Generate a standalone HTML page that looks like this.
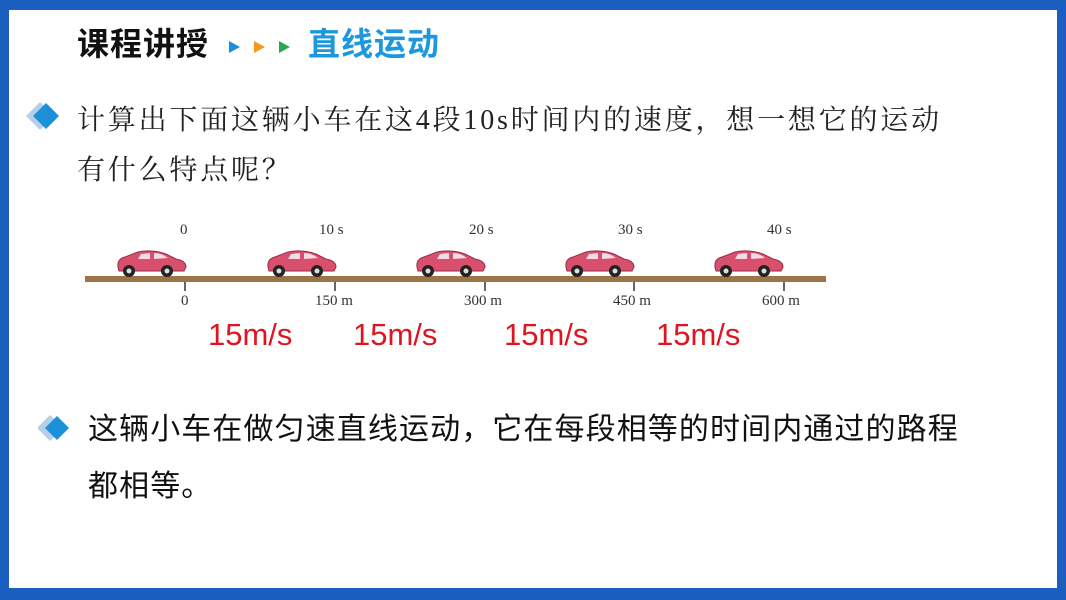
<!DOCTYPE html>
<html><head><meta charset="utf-8"><style>
body{margin:0;width:1066px;height:600px;background:#1a5fc0;position:relative;overflow:hidden;font-family:"Liberation Sans","Noto Sans CJK SC",sans-serif}
#p{position:absolute;left:9px;top:10px;width:1048px;height:578px;background:#fff}
.t{position:absolute;white-space:nowrap}
.serif{font-family:"Liberation Serif","Noto Serif CJK SC",serif}
.red{color:#e0141e;font-size:31px}
.lbl{font-family:"Liberation Serif",serif;font-size:15px;color:#333}
</style></head><body>
<div id="p"></div>
<div class="t" style="left:77px;top:19px;font-size:32px;font-weight:bold;color:#111;letter-spacing:1px">课程讲授</div>
<svg class="t" style="left:229px;top:41px" width="64" height="14"><polygon points="0,0 11,6 0,12" fill="#1b8fd8"/><polygon points="25,0 36,6 25,12" fill="#f39a1e"/><polygon points="50,0 61,6 50,12" fill="#2aa84a"/></svg>
<div class="t" style="left:308px;top:19px;font-size:32px;font-weight:bold;color:#1d98df;letter-spacing:1px">直线运动</div>
<svg class="t" style="left:26px;top:102px" width="40" height="30"><polygon points="14,0 28,14 14,28 0,14" fill="#b6cfe8"/><polygon points="20,1 33,14 20,27 7,14" fill="#1b8fd8"/></svg>
<div class="t serif" style="left:77px;top:98px;font-size:28px;color:#222;letter-spacing:2.8px">计算出下面这辆小车在这4段10s时间内的速度，想一想它的运动</div>
<div class="t serif" style="left:77px;top:148px;font-size:28px;color:#222;letter-spacing:2.8px">有什么特点呢？</div>
<svg class="t" style="left:0;top:215px" width="1066" height="100">
<rect x="85" y="61" width="741" height="6" fill="#9c7448"/>
<g id="c">
<path d="M118,52 Q117,44 125,42 L138,37 Q152,34 166,39 L176,44 Q186,46 186,52 L184,56 L119,56 Z" fill="#d9506e" stroke="#9a2a44" stroke-width="1"/>
<path d="M141,39 L150,38 L150,44 L138,44 Z M154,38 Q162,38 168,43 L154,44 Z" fill="#f5dbe2"/>
<circle cx="129" cy="56" r="6" fill="#222"/><circle cx="129" cy="56" r="2.5" fill="#ddd"/>
<circle cx="167" cy="56" r="6" fill="#222"/><circle cx="167" cy="56" r="2.5" fill="#ddd"/>
</g>
<use href="#c" x="150"/><use href="#c" x="299"/><use href="#c" x="448"/><use href="#c" x="597"/>
<g stroke="#333" stroke-width="1.5"><line x1="185" y1="67" x2="185" y2="76"/><line x1="335" y1="67" x2="335" y2="76"/><line x1="485" y1="67" x2="485" y2="76"/><line x1="634" y1="67" x2="634" y2="76"/><line x1="784" y1="67" x2="784" y2="76"/></g>
</svg>
<div class="t lbl" style="left:180px;top:222px">0</div>
<div class="t lbl" style="left:319px;top:222px">10 s</div>
<div class="t lbl" style="left:469px;top:222px">20 s</div>
<div class="t lbl" style="left:618px;top:222px">30 s</div>
<div class="t lbl" style="left:767px;top:222px">40 s</div>
<div class="t lbl" style="left:181px;top:293px">0</div>
<div class="t lbl" style="left:315px;top:293px">150 m</div>
<div class="t lbl" style="left:464px;top:293px">300 m</div>
<div class="t lbl" style="left:613px;top:293px">450 m</div>
<div class="t lbl" style="left:762px;top:293px">600 m</div>
<div class="t red" style="left:208px;top:317px">15m/s</div>
<div class="t red" style="left:353px;top:317px">15m/s</div>
<div class="t red" style="left:504px;top:317px">15m/s</div>
<div class="t red" style="left:656px;top:317px">15m/s</div>
<svg class="t" style="left:38px;top:414px" width="40" height="30"><polygon points="12,1 25,14 12,27 -1,14" fill="#b6cfe8"/><polygon points="19,2 31,14 19,26 7,14" fill="#1b8fd8"/></svg>
<div class="t" style="left:88px;top:404px;font-size:30px;color:#111;letter-spacing:1.1px">这辆小车在做匀速直线运动，它在每段相等的时间内通过的路程</div>
<div class="t" style="left:88px;top:461px;font-size:30px;color:#111;letter-spacing:1.1px">都相等。</div>
</body></html>
